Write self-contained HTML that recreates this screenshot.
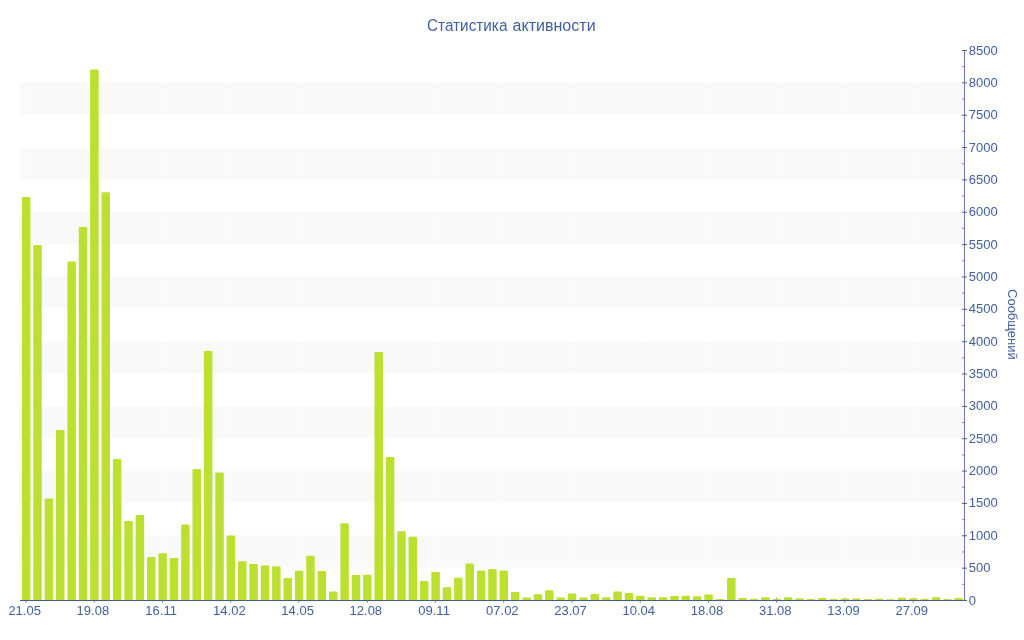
<!DOCTYPE html>
<html lang="ru"><head><meta charset="utf-8"><title>Статистика активности</title>
<style>
html,body{margin:0;padding:0;background:#fff;}
body{width:1024px;height:640px;overflow:hidden;font-family:"Liberation Sans",sans-serif;}
svg{display:block;}
svg text{font-family:"Liberation Sans",sans-serif;fill:#42609f;}
</style></head><body>
<svg width="1024" height="640" viewBox="0 0 1024 640">
<rect width="1024" height="640" fill="#fff"/>

<g fill="#f9f9f9">
<rect x="20.00" y="535.29" width="944.00" height="32.35"/>
<rect x="20.00" y="470.59" width="944.00" height="32.35"/>
<rect x="20.00" y="405.88" width="944.00" height="32.35"/>
<rect x="20.00" y="341.18" width="944.00" height="32.35"/>
<rect x="20.00" y="276.47" width="944.00" height="32.35"/>
<rect x="20.00" y="211.76" width="944.00" height="32.35"/>
<rect x="20.00" y="147.06" width="944.00" height="32.35"/>
<rect x="20.00" y="82.35" width="944.00" height="32.35"/>
</g>
<path d="M26.00,50V600M94.24,50V600M162.48,50V600M230.72,50V600M298.96,50V600M367.20,50V600M435.45,50V600M503.69,50V600M571.93,50V600M640.17,50V600M708.41,50V600M776.65,50V600M844.89,50V600M913.13,50V600M20,567.5H964M20,535.5H964M20,502.5H964M20,470.5H964M20,438.5H964M20,405.5H964M20,373.5H964M20,341.5H964M20,308.5H964M20,276.5H964M20,244.5H964M20,211.5H964M20,179.5H964M20,147.5H964M20,114.5H964M20,82.5H964M20,50.5H964" stroke="#fff" stroke-opacity="0.4" stroke-width="1" stroke-dasharray="4,4" fill="none"/>
<g><rect x="25.50" y="597.9" width="1" height="3" fill="#606060" opacity="0.8"/><rect x="93.74" y="597.9" width="1" height="3" fill="#606060" opacity="0.8"/><rect x="161.98" y="597.9" width="1" height="3" fill="#606060" opacity="0.8"/><rect x="230.22" y="597.9" width="1" height="3" fill="#606060" opacity="0.8"/><rect x="298.46" y="597.9" width="1" height="3" fill="#606060" opacity="0.8"/><rect x="366.70" y="597.9" width="1" height="3" fill="#606060" opacity="0.8"/><rect x="434.95" y="597.9" width="1" height="3" fill="#606060" opacity="0.8"/><rect x="503.19" y="597.9" width="1" height="3" fill="#606060" opacity="0.8"/><rect x="571.43" y="597.9" width="1" height="3" fill="#606060" opacity="0.8"/><rect x="639.67" y="597.9" width="1" height="3" fill="#606060" opacity="0.8"/><rect x="707.91" y="597.9" width="1" height="3" fill="#606060" opacity="0.8"/><rect x="776.15" y="597.9" width="1" height="3" fill="#606060" opacity="0.8"/><rect x="844.39" y="597.9" width="1" height="3" fill="#606060" opacity="0.8"/><rect x="912.63" y="597.9" width="1" height="3" fill="#606060" opacity="0.8"/></g>
<g fill="#bbe02f">
<path d="M21.90,600.5V198.10Q21.90,196.90 23.10,196.90H29.20Q30.40,196.90 30.40,198.10V600.5Z"/>
<path d="M33.27,600.5V246.20Q33.27,245.00 34.47,245.00H40.57Q41.77,245.00 41.77,246.20V600.5Z"/>
<path d="M44.65,600.5V499.70Q44.65,498.50 45.85,498.50H51.95Q53.15,498.50 53.15,499.70V600.5Z"/>
<path d="M56.02,600.5V431.20Q56.02,430.00 57.22,430.00H63.32Q64.52,430.00 64.52,431.20V600.5Z"/>
<path d="M67.39,600.5V262.80Q67.39,261.60 68.59,261.60H74.69Q75.89,261.60 75.89,262.80V600.5Z"/>
<path d="M78.77,600.5V228.10Q78.77,226.90 79.97,226.90H86.07Q87.27,226.90 87.27,228.10V600.5Z"/>
<path d="M90.14,600.5V70.80Q90.14,69.60 91.34,69.60H97.44Q98.64,69.60 98.64,70.80V600.5Z"/>
<path d="M101.51,600.5V193.40Q101.51,192.20 102.71,192.20H108.81Q110.01,192.20 110.01,193.40V600.5Z"/>
<path d="M112.89,600.5V460.20Q112.89,459.00 114.09,459.00H120.19Q121.39,459.00 121.39,460.20V600.5Z"/>
<path d="M124.26,600.5V522.20Q124.26,521.00 125.46,521.00H131.56Q132.76,521.00 132.76,522.20V600.5Z"/>
<path d="M135.63,600.5V516.20Q135.63,515.00 136.83,515.00H142.93Q144.13,515.00 144.13,516.20V600.5Z"/>
<path d="M147.01,600.5V558.20Q147.01,557.00 148.21,557.00H154.31Q155.51,557.00 155.51,558.20V600.5Z"/>
<path d="M158.38,600.5V554.45Q158.38,553.25 159.58,553.25H165.68Q166.88,553.25 166.88,554.45V600.5Z"/>
<path d="M169.76,600.5V559.20Q169.76,558.00 170.96,558.00H177.06Q178.26,558.00 178.26,559.20V600.5Z"/>
<path d="M181.13,600.5V525.70Q181.13,524.50 182.33,524.50H188.43Q189.63,524.50 189.63,525.70V600.5Z"/>
<path d="M192.50,600.5V470.20Q192.50,469.00 193.70,469.00H199.80Q201.00,469.00 201.00,470.20V600.5Z"/>
<path d="M203.88,600.5V352.20Q203.88,351.00 205.08,351.00H211.18Q212.38,351.00 212.38,352.20V600.5Z"/>
<path d="M215.25,600.5V473.70Q215.25,472.50 216.45,472.50H222.55Q223.75,472.50 223.75,473.70V600.5Z"/>
<path d="M226.62,600.5V536.70Q226.62,535.50 227.82,535.50H233.92Q235.12,535.50 235.12,536.70V600.5Z"/>
<path d="M238.00,600.5V562.45Q238.00,561.25 239.20,561.25H245.30Q246.50,561.25 246.50,562.45V600.5Z"/>
<path d="M249.37,600.5V565.20Q249.37,564.00 250.57,564.00H256.67Q257.87,564.00 257.87,565.20V600.5Z"/>
<path d="M260.74,600.5V566.70Q260.74,565.50 261.94,565.50H268.04Q269.24,565.50 269.24,566.70V600.5Z"/>
<path d="M272.12,600.5V567.45Q272.12,566.25 273.32,566.25H279.42Q280.62,566.25 280.62,567.45V600.5Z"/>
<path d="M283.49,600.5V579.20Q283.49,578.00 284.69,578.00H290.79Q291.99,578.00 291.99,579.20V600.5Z"/>
<path d="M294.86,600.5V571.95Q294.86,570.75 296.06,570.75H302.16Q303.36,570.75 303.36,571.95V600.5Z"/>
<path d="M306.24,600.5V556.95Q306.24,555.75 307.44,555.75H313.54Q314.74,555.75 314.74,556.95V600.5Z"/>
<path d="M317.61,600.5V572.20Q317.61,571.00 318.81,571.00H324.91Q326.11,571.00 326.11,572.20V600.5Z"/>
<path d="M328.98,600.5V592.70Q328.98,591.50 330.18,591.50H336.28Q337.48,591.50 337.48,592.70V600.5Z"/>
<path d="M340.36,600.5V524.45Q340.36,523.25 341.56,523.25H347.66Q348.86,523.25 348.86,524.45V600.5Z"/>
<path d="M351.73,600.5V576.20Q351.73,575.00 352.93,575.00H359.03Q360.23,575.00 360.23,576.20V600.5Z"/>
<path d="M363.10,600.5V575.95Q363.10,574.75 364.30,574.75H370.40Q371.60,574.75 371.60,575.95V600.5Z"/>
<path d="M374.48,600.5V353.20Q374.48,352.00 375.68,352.00H381.78Q382.98,352.00 382.98,353.20V600.5Z"/>
<path d="M385.85,600.5V458.20Q385.85,457.00 387.05,457.00H393.15Q394.35,457.00 394.35,458.20V600.5Z"/>
<path d="M397.23,600.5V532.45Q397.23,531.25 398.43,531.25H404.53Q405.73,531.25 405.73,532.45V600.5Z"/>
<path d="M408.60,600.5V537.95Q408.60,536.75 409.80,536.75H415.90Q417.10,536.75 417.10,537.95V600.5Z"/>
<path d="M419.97,600.5V582.20Q419.97,581.00 421.17,581.00H427.27Q428.47,581.00 428.47,582.20V600.5Z"/>
<path d="M431.35,600.5V573.20Q431.35,572.00 432.55,572.00H438.65Q439.85,572.00 439.85,573.20V600.5Z"/>
<path d="M442.72,600.5V588.45Q442.72,587.25 443.92,587.25H450.02Q451.22,587.25 451.22,588.45V600.5Z"/>
<path d="M454.09,600.5V578.95Q454.09,577.75 455.29,577.75H461.39Q462.59,577.75 462.59,578.95V600.5Z"/>
<path d="M465.47,600.5V564.70Q465.47,563.50 466.67,563.50H472.77Q473.97,563.50 473.97,564.70V600.5Z"/>
<path d="M476.84,600.5V571.70Q476.84,570.50 478.04,570.50H484.14Q485.34,570.50 485.34,571.70V600.5Z"/>
<path d="M488.21,600.5V570.20Q488.21,569.00 489.41,569.00H495.51Q496.71,569.00 496.71,570.20V600.5Z"/>
<path d="M499.59,600.5V571.70Q499.59,570.50 500.79,570.50H506.89Q508.09,570.50 508.09,571.70V600.5Z"/>
<path d="M510.96,600.5V593.10Q510.96,591.90 512.16,591.90H518.26Q519.46,591.90 519.46,593.10V600.5Z"/>
<path d="M522.33,600.5V598.70Q522.33,597.50 523.53,597.50H529.63Q530.83,597.50 530.83,598.70V600.5Z"/>
<path d="M533.71,600.5V595.40Q533.71,594.20 534.91,594.20H541.01Q542.21,594.20 542.21,595.40V600.5Z"/>
<path d="M545.08,600.5V591.50Q545.08,590.30 546.28,590.30H552.38Q553.58,590.30 553.58,591.50V600.5Z"/>
<path d="M556.45,600.5V598.70Q556.45,597.50 557.65,597.50H563.75Q564.95,597.50 564.95,598.70V600.5Z"/>
<path d="M567.83,600.5V594.80Q567.83,593.60 569.03,593.60H575.13Q576.33,593.60 576.33,594.80V600.5Z"/>
<path d="M579.20,600.5V598.70Q579.20,597.50 580.40,597.50H586.50Q587.70,597.50 587.70,598.70V600.5Z"/>
<path d="M590.57,600.5V595.30Q590.57,594.10 591.77,594.10H597.87Q599.07,594.10 599.07,595.30V600.5Z"/>
<path d="M601.95,600.5V598.40Q601.95,597.20 603.15,597.20H609.25Q610.45,597.20 610.45,598.40V600.5Z"/>
<path d="M613.32,600.5V592.60Q613.32,591.40 614.52,591.40H620.62Q621.82,591.40 621.82,592.60V600.5Z"/>
<path d="M624.70,600.5V594.30Q624.70,593.10 625.90,593.10H632.00Q633.20,593.10 633.20,594.30V600.5Z"/>
<path d="M636.07,600.5V597.00Q636.07,595.80 637.27,595.80H643.37Q644.57,595.80 644.57,597.00V600.5Z"/>
<path d="M647.44,600.5V598.40Q647.44,597.20 648.64,597.20H654.74Q655.94,597.20 655.94,598.40V600.5Z"/>
<path d="M658.82,600.5V598.50Q658.82,597.30 660.02,597.30H666.12Q667.32,597.30 667.32,598.50V600.5Z"/>
<path d="M670.19,600.5V597.30Q670.19,596.10 671.39,596.10H677.49Q678.69,596.10 678.69,597.30V600.5Z"/>
<path d="M681.56,600.5V597.00Q681.56,595.80 682.76,595.80H688.86Q690.06,595.80 690.06,597.00V600.5Z"/>
<path d="M692.94,600.5V597.45Q692.94,596.25 694.14,596.25H700.24Q701.44,596.25 701.44,597.45V600.5Z"/>
<path d="M704.31,600.5V595.60Q704.31,594.40 705.51,594.40H711.61Q712.81,594.40 712.81,595.60V600.5Z"/>
<path d="M715.68,600.5V600.00Q715.68,599.00 716.88,599.00H722.98Q724.18,599.00 724.18,600.00V600.5Z"/>
<path d="M727.06,600.5V579.30Q727.06,578.10 728.26,578.10H734.36Q735.56,578.10 735.56,579.30V600.5Z"/>
<path d="M738.43,600.5V599.30Q738.43,598.10 739.63,598.10H745.73Q746.93,598.10 746.93,599.30V600.5Z"/>
<path d="M749.80,600.5V599.95Q749.80,598.75 751.00,598.75H757.10Q758.30,598.75 758.30,599.95V600.5Z"/>
<path d="M761.18,600.5V598.40Q761.18,597.20 762.38,597.20H768.48Q769.68,597.20 769.68,598.40V600.5Z"/>
<path d="M772.55,600.5V600.00Q772.55,598.90 773.75,598.90H779.85Q781.05,598.90 781.05,600.00V600.5Z"/>
<path d="M783.92,600.5V598.40Q783.92,597.20 785.12,597.20H791.22Q792.42,597.20 792.42,598.40V600.5Z"/>
<path d="M795.30,600.5V599.50Q795.30,598.30 796.50,598.30H802.60Q803.80,598.30 803.80,599.50V600.5Z"/>
<path d="M806.67,600.5V600.00Q806.67,599.00 807.87,599.00H813.97Q815.17,599.00 815.17,600.00V600.5Z"/>
<path d="M818.04,600.5V599.20Q818.04,598.00 819.24,598.00H825.34Q826.54,598.00 826.54,599.20V600.5Z"/>
<path d="M829.42,600.5V600.00Q829.42,599.00 830.62,599.00H836.72Q837.92,599.00 837.92,600.00V600.5Z"/>
<path d="M840.79,600.5V599.60Q840.79,598.40 841.99,598.40H848.09Q849.29,598.40 849.29,599.60V600.5Z"/>
<path d="M852.17,600.5V599.80Q852.17,598.60 853.37,598.60H859.47Q860.67,598.60 860.67,599.80V600.5Z"/>
<path d="M863.54,600.5V600.00Q863.54,598.90 864.74,598.90H870.84Q872.04,598.90 872.04,600.00V600.5Z"/>
<path d="M874.91,600.5V599.95Q874.91,598.75 876.11,598.75H882.21Q883.41,598.75 883.41,599.95V600.5Z"/>
<path d="M886.29,600.5V600.00Q886.29,599.20 887.49,599.20H893.59Q894.79,599.20 894.79,600.00V600.5Z"/>
<path d="M897.66,600.5V598.90Q897.66,597.70 898.86,597.70H904.96Q906.16,597.70 906.16,598.90V600.5Z"/>
<path d="M909.03,600.5V599.50Q909.03,598.30 910.23,598.30H916.33Q917.53,598.30 917.53,599.50V600.5Z"/>
<path d="M920.41,600.5V599.95Q920.41,598.75 921.61,598.75H927.71Q928.91,598.75 928.91,599.95V600.5Z"/>
<path d="M931.78,600.5V598.50Q931.78,597.30 932.98,597.30H939.08Q940.28,597.30 940.28,598.50V600.5Z"/>
<path d="M943.15,600.5V600.00Q943.15,598.90 944.35,598.90H950.45Q951.65,598.90 951.65,600.00V600.5Z"/>
<path d="M954.53,600.5V599.30Q954.53,598.10 955.73,598.10H961.83Q963.03,598.10 963.03,599.30V600.5Z"/>
</g>
<g shape-rendering="crispEdges">
<rect x="20" y="600" width="945" height="1" fill="#4059a1"/>
<rect x="964" y="50" width="1" height="550" fill="#6a7ab0"/>
</g>
<g><rect x="962" y="600.00" width="5" height="1" fill="#606060"/><rect x="962" y="583.82" width="3" height="1" fill="#606060" opacity="0.7"/><rect x="962" y="567.65" width="5" height="1" fill="#606060"/><rect x="962" y="551.47" width="3" height="1" fill="#606060" opacity="0.7"/><rect x="962" y="535.29" width="5" height="1" fill="#606060"/><rect x="962" y="519.12" width="3" height="1" fill="#606060" opacity="0.7"/><rect x="962" y="502.94" width="5" height="1" fill="#606060"/><rect x="962" y="486.76" width="3" height="1" fill="#606060" opacity="0.7"/><rect x="962" y="470.59" width="5" height="1" fill="#606060"/><rect x="962" y="454.41" width="3" height="1" fill="#606060" opacity="0.7"/><rect x="962" y="438.24" width="5" height="1" fill="#606060"/><rect x="962" y="422.06" width="3" height="1" fill="#606060" opacity="0.7"/><rect x="962" y="405.88" width="5" height="1" fill="#606060"/><rect x="962" y="389.71" width="3" height="1" fill="#606060" opacity="0.7"/><rect x="962" y="373.53" width="5" height="1" fill="#606060"/><rect x="962" y="357.35" width="3" height="1" fill="#606060" opacity="0.7"/><rect x="962" y="341.18" width="5" height="1" fill="#606060"/><rect x="962" y="325.00" width="3" height="1" fill="#606060" opacity="0.7"/><rect x="962" y="308.82" width="5" height="1" fill="#606060"/><rect x="962" y="292.65" width="3" height="1" fill="#606060" opacity="0.7"/><rect x="962" y="276.47" width="5" height="1" fill="#606060"/><rect x="962" y="260.29" width="3" height="1" fill="#606060" opacity="0.7"/><rect x="962" y="244.12" width="5" height="1" fill="#606060"/><rect x="962" y="227.94" width="3" height="1" fill="#606060" opacity="0.7"/><rect x="962" y="211.76" width="5" height="1" fill="#606060"/><rect x="962" y="195.59" width="3" height="1" fill="#606060" opacity="0.7"/><rect x="962" y="179.41" width="5" height="1" fill="#606060"/><rect x="962" y="163.24" width="3" height="1" fill="#606060" opacity="0.7"/><rect x="962" y="147.06" width="5" height="1" fill="#606060"/><rect x="962" y="130.88" width="3" height="1" fill="#606060" opacity="0.7"/><rect x="962" y="114.71" width="5" height="1" fill="#606060"/><rect x="962" y="98.53" width="3" height="1" fill="#606060" opacity="0.7"/><rect x="962" y="82.35" width="5" height="1" fill="#606060"/><rect x="962" y="66.18" width="3" height="1" fill="#606060" opacity="0.7"/><rect x="962" y="50.00" width="5" height="1" fill="#606060"/><rect x="25.50" y="600" width="1" height="2.8" fill="#606060" opacity="0.75"/><rect x="93.74" y="600" width="1" height="2.8" fill="#606060" opacity="0.75"/><rect x="161.98" y="600" width="1" height="2.8" fill="#606060" opacity="0.75"/><rect x="230.22" y="600" width="1" height="2.8" fill="#606060" opacity="0.75"/><rect x="298.46" y="600" width="1" height="2.8" fill="#606060" opacity="0.75"/><rect x="366.70" y="600" width="1" height="2.8" fill="#606060" opacity="0.75"/><rect x="434.95" y="600" width="1" height="2.8" fill="#606060" opacity="0.75"/><rect x="503.19" y="600" width="1" height="2.8" fill="#606060" opacity="0.75"/><rect x="571.43" y="600" width="1" height="2.8" fill="#606060" opacity="0.75"/><rect x="639.67" y="600" width="1" height="2.8" fill="#606060" opacity="0.75"/><rect x="707.91" y="600" width="1" height="2.8" fill="#606060" opacity="0.75"/><rect x="776.15" y="600" width="1" height="2.8" fill="#606060" opacity="0.75"/><rect x="844.39" y="600" width="1" height="2.8" fill="#606060" opacity="0.75"/><rect x="912.63" y="600" width="1" height="2.8" fill="#606060" opacity="0.75"/></g>
<g font-size="13">
<text x="968.7" y="605">0</text>
<text x="968.7" y="572">500</text>
<text x="968.7" y="540">1000</text>
<text x="968.7" y="507">1500</text>
<text x="968.7" y="475">2000</text>
<text x="968.7" y="443">2500</text>
<text x="968.7" y="410">3000</text>
<text x="968.7" y="378">3500</text>
<text x="968.7" y="346">4000</text>
<text x="968.7" y="313">4500</text>
<text x="968.7" y="281">5000</text>
<text x="968.7" y="249">5500</text>
<text x="968.7" y="216">6000</text>
<text x="968.7" y="184">6500</text>
<text x="968.7" y="152">7000</text>
<text x="968.7" y="119">7500</text>
<text x="968.7" y="87">8000</text>
<text x="968.7" y="55">8500</text>
</g>
<g font-size="13" text-anchor="middle">
<text x="24.65" y="615">21.05</text>
<text x="92.89" y="615">19.08</text>
<text x="161.13" y="615">16.11</text>
<text x="229.37" y="615">14.02</text>
<text x="297.61" y="615">14.05</text>
<text x="365.85" y="615">12.08</text>
<text x="434.10" y="615">09.11</text>
<text x="502.34" y="615">07.02</text>
<text x="570.58" y="615">23.07</text>
<text x="638.82" y="615">10.04</text>
<text x="707.06" y="615">18.08</text>
<text x="775.30" y="615">31.08</text>
<text x="843.54" y="615">13.09</text>
<text x="911.78" y="615">27.09</text>
</g>
<text y="30.8" font-size="16"><tspan x="427.0" textLength="80.4" lengthAdjust="spacingAndGlyphs">Статистика</tspan> <tspan x="512.6" textLength="83.0" lengthAdjust="spacingAndGlyphs">активности</tspan></text>
<text transform="translate(1008.3,324.4) rotate(90)" font-size="13" text-anchor="middle">Сообщений</text>
</svg></body></html>
